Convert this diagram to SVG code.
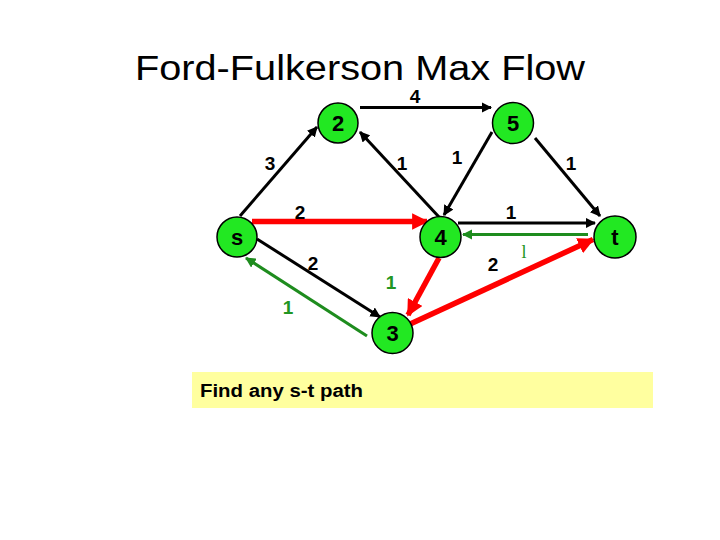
<svg xmlns="http://www.w3.org/2000/svg" width="720" height="540" viewBox="0 0 720 540">
<style>
.node circle{fill:#22e822;stroke:#000;stroke-width:1.5}
.node text{font-family:"Liberation Sans",Arial,sans-serif;font-weight:bold;font-size:22px;text-anchor:middle;fill:#000}
.lbl{font-family:"Liberation Sans",Arial,sans-serif;font-weight:bold;font-size:19px;text-anchor:middle;fill:#000}
.g{fill:#229622}
.blk{stroke:#000;stroke-width:3;fill:none;marker-end:url(#ab)}
.red{stroke:#f00;stroke-width:5.5;fill:none;marker-end:url(#ar)}
.grn{stroke:#1e8c1e;stroke-width:3;fill:none;marker-end:url(#ag)}
</style>
<defs>
<marker id="ab" viewBox="0 0 10 10" refX="9" refY="5" markerWidth="3.5" markerHeight="3.5" orient="auto" markerUnits="strokeWidth"><path d="M0,0 L10,5 L0,10 z" fill="#000"/></marker>
<marker id="ar" viewBox="0 0 10 10" refX="9" refY="5" markerWidth="3" markerHeight="3" orient="auto" markerUnits="strokeWidth"><path d="M0,0 L10,5 L0,10 z" fill="#f00"/></marker>
<marker id="ag" viewBox="0 0 10 10" refX="9" refY="5" markerWidth="3.5" markerHeight="3.5" orient="auto" markerUnits="strokeWidth"><path d="M0,0 L10,5 L0,10 z" fill="#1e8c1e"/></marker>
</defs>
<rect width="720" height="540" fill="#fff"/>
<text x="360" y="80" font-family="'Liberation Sans',Arial,sans-serif" font-size="35" text-anchor="middle" textLength="450" lengthAdjust="spacingAndGlyphs" fill="#000">Ford-Fulkerson Max Flow</text>
<g id="connectors">
<line class="blk" x1="240" y1="216" x2="317" y2="127"/>
<line class="blk" x1="439" y1="217" x2="360" y2="132"/>
<line class="blk" x1="360" y1="107.5" x2="491" y2="107.5"/>
<line class="blk" x1="492" y1="132" x2="444" y2="215"/>
<line class="blk" x1="535" y1="138" x2="600" y2="216"/>
<line class="blk" x1="458" y1="223" x2="595" y2="223"/>
<line class="grn" x1="588" y1="234.5" x2="463" y2="234.5"/>
<line class="red" x1="252" y1="221.5" x2="427" y2="221.5"/>
<line class="blk" x1="257" y1="239" x2="380" y2="317"/>
<line class="grn" x1="367" y1="336" x2="246" y2="258"/>
<line class="red" x1="439" y1="258" x2="408" y2="315"/>
<line class="red" x1="408" y1="325" x2="593" y2="239.5"/>
</g>
<g id="labels">
<text class="lbl" x="415" y="103">4</text>
<text class="lbl" x="270" y="170">3</text>
<text class="lbl" x="402" y="170">1</text>
<text class="lbl" x="457" y="164">1</text>
<text class="lbl" x="571" y="170">1</text>
<text class="lbl" x="300" y="218.5">2</text>
<text class="lbl" x="511" y="218.5">1</text>
<text class="lbl" x="313" y="270">2</text>
<text class="lbl g" x="391" y="289">1</text>
<text class="lbl g" x="288" y="313.5">1</text>
<text class="lbl" x="493" y="271">2</text>
<text x="524" y="258" font-family="'Liberation Serif',serif" font-size="18" text-anchor="middle" fill="#229622">l</text>
</g>
<g id="node-2" class="node"><circle cx="338" cy="123" r="20"/><text x="338" y="131">2</text></g>
<g id="node-5" class="node"><circle cx="513" cy="123" r="20.5"/><text x="513" y="131">5</text></g>
<g id="node-s" class="node"><circle cx="237" cy="237" r="20"/><text x="237" y="245">s</text></g>
<g id="node-4" class="node"><circle cx="440.5" cy="237" r="20.5"/><text x="440.5" y="245">4</text></g>
<g id="node-t" class="node"><circle cx="615" cy="237" r="21"/><text x="615" y="245">t</text></g>
<g id="node-3" class="node"><circle cx="392.5" cy="333" r="20.5"/><text x="392.5" y="341">3</text></g>
<g id="note">
<rect x="192" y="372" width="461" height="36" fill="#ffff9f"/>
<text x="200" y="397" font-family="'Liberation Sans',Arial,sans-serif" font-weight="bold" font-size="18" textLength="163" lengthAdjust="spacingAndGlyphs" fill="#000">Find any s-t path</text>
</g>
</svg>
